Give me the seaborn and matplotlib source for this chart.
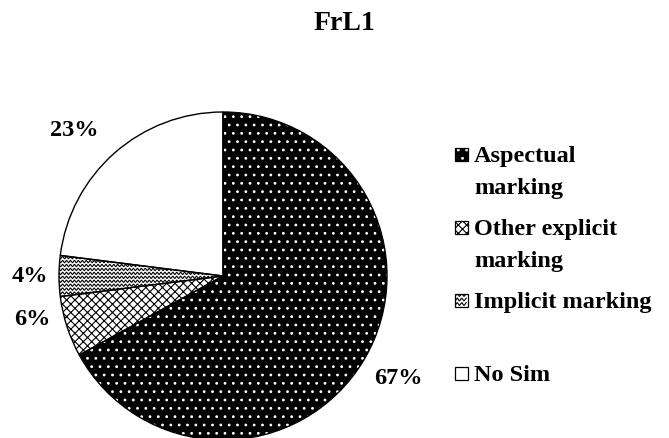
import matplotlib
matplotlib.use("Agg")
import matplotlib.pyplot as plt
from matplotlib.patches import Rectangle
import numpy as np
import seaborn as sns

# data
title = "FrL1"
categories = ["Aspectual marking", "Other explicit marking", "Implicit marking", "No Sim"]
legend_lines = [["Aspectual", "marking"], ["Other explicit", "marking"],
                ["Implicit marking"], ["No Sim"]]
shares = [67, 6, 4, 23]

# styling per slice
faces = ["black", "white", "white", "white"]
hatch_colors = ["white", "black", "black", "white"]
hatches = ["..", "xxxx", None, None]
wavy = [False, False, True, False]
label_nudge = [(0.02, 0.0), (0.0, 0.12), (0.04, 0.0), (-0.1, -0.02)]

sns.set_theme(style="white")
plt.rcParams["font.family"] = ["Liberation Serif", "DejaVu Serif"]
plt.rcParams["font.weight"] = "bold"
plt.rcParams["text.color"] = "black"
plt.rcParams["hatch.linewidth"] = 0.8

W, H = 669, 439
fig = plt.figure(figsize=(W / 100, H / 100), dpi=100)

# pie axes: centre and radius in pixels
cx, cy, R = 223, 277, 164
ax = fig.add_axes([(cx - R) / W, (H - cy - R) / H, 2 * R / W, 2 * R / H])

wedges, texts, autotexts = ax.pie(
    shares, startangle=90, counterclock=False, colors=faces, radius=1,
    autopct=lambda p: f"{p:.0f}%", pctdistance=1.22,
    wedgeprops=dict(linewidth=0))


def zigzag(ax, x0, x1, y0, y1, step, amp, clip, lw=0.8):
    for yy in np.arange(y0, y1, step):
        xs = np.arange(x0, x1, step * 0.5)
        ys = yy + amp * (-1) ** np.arange(len(xs))
        ln, = ax.plot(xs, ys, color="black", lw=lw, solid_joinstyle="miter")
        ln.set_clip_path(clip)


for i, w in enumerate(wedges):
    w.set_edgecolor(hatch_colors[i])
    if hatches[i]:
        w.set_hatch(hatches[i])
    if wavy[i]:
        zigzag(ax, -1.05, 0.05, -0.2, 0.2, 0.024, 0.008, w)

# outlines on top
ax.pie(shares, startangle=90, counterclock=False, radius=1,
       wedgeprops=dict(fill=False, edgecolor="black", linewidth=1.0))

for t, (dx, dy) in zip(autotexts, label_nudge):
    x, y = t.get_position()
    t.set_position((x + dx, y + dy))
    t.set_fontsize(17.5)
    t.set_fontweight("bold")
    t.set_color("black")

ax.set_xlim(-1, 1)
ax.set_ylim(-1, 1)
ax.axis("off")

# legend drawn in pixel coordinates
lax = fig.add_axes([0, 0, 1, 1])
lax.set_xlim(0, W)
lax.set_ylim(H, 0)
lax.axis("off")
for i, lines in enumerate(legend_lines):
    yc = 155 + 73 * i
    box = Rectangle((455, yc - 6.5), 13, 13, facecolor=faces[i],
                    edgecolor=hatch_colors[i], linewidth=0)
    if hatches[i]:
        box.set_hatch(hatches[i])
    lax.add_patch(box)
    if wavy[i]:
        zigzag(lax, 455, 468, yc - 5, yc + 6, 4.5, 1.5, box, lw=0.8)
    lax.add_patch(Rectangle((455, yc - 6.5), 13, 13, fill=False,
                            edgecolor="black", linewidth=0.9))
    for j, line in enumerate(lines):
        lax.text(474, yc + 7 + 32 * j, line, fontsize=17.5, fontweight="bold",
                 ha="left", va="baseline", color="black")

fig.text(344 / W, 1 - 23 / H, title, ha="center", va="center",
         fontsize=20, fontweight="bold")

fig.savefig("out.png", dpi=100)
